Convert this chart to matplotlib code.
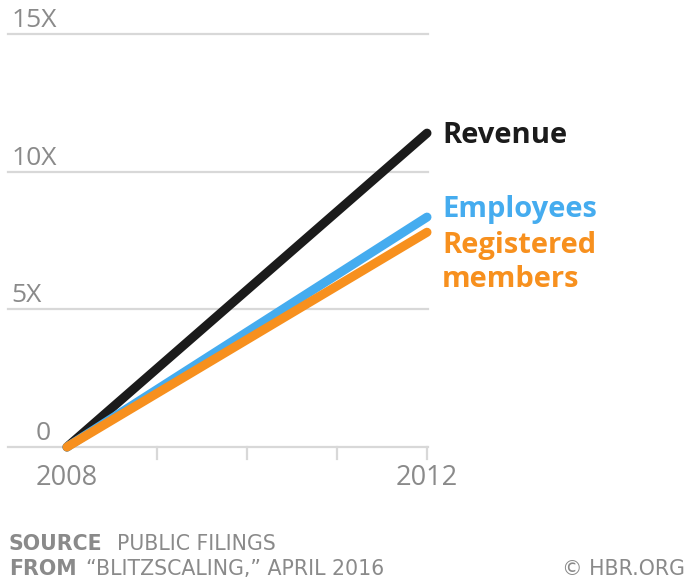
import matplotlib
matplotlib.use("Agg")
import matplotlib.pyplot as plt
from matplotlib.transforms import blended_transform_factory

years = [2008, 2012]
revenue = [0, 11.4]
employees = [0, 8.35]
members = [0, 7.8]
ytick_vals = [0, 5, 10, 15]
ytick_labels = ["0", "5X", "10X", "15X"]
xtick_vals = [2008, 2009, 2010, 2011, 2012]
xtick_labels = ["2008", "", "", "", "2012"]

BLACK = "#1b1b1b"
BLUE = "#45acef"
ORANGE = "#f7901e"
GRAY = "#8a8a8a"
GRID = "#d8d8d8"

plt.rcParams['font.family'] = ['Open Sans', 'DejaVu Sans']

W, H = 687, 581
fig = plt.figure(figsize=(W / 100, H / 100), dpi=100)
ax = fig.add_axes([8 / W, (H - 447) / H, 420 / W, 413 / H])
ax.set_xlim(2008 - 59 / 90, 2012 + 1 / 90)
ax.set_ylim(0, 15)
for s in ax.spines.values():
    s.set_visible(False)
ax.set_xticks([])
ax.set_yticks([])

# gridlines
for v in ytick_vals:
    ax.axhline(v, color=GRID, lw=1.6, zorder=1, clip_on=False)
trans = blended_transform_factory(ax.transAxes, ax.transData)
for v, lab in zip(ytick_vals, ytick_labels):
    ax.text(0.008 if v else 0.065, v + 0.25, lab, transform=trans, ha="left", va="baseline",
            fontsize=19, color=GRAY)

# bottom ticks
for x, lab in zip(xtick_vals, xtick_labels):
    if x != 2008:
        ax.plot([x, x], [0, -0.42], color=GRID, lw=1.6, clip_on=False, zorder=1)
    if lab:
        ax.text(x, -1.38, lab, ha="center", va="baseline", fontsize=19.5, color=GRAY)

lw = 6.5
ax.plot(years, revenue, color=BLACK, lw=lw, solid_capstyle="round", clip_on=False, zorder=3)
ax.plot(years, employees, color=BLUE, lw=lw, solid_capstyle="round", clip_on=False, zorder=4)
ax.plot(years, members, color=ORANGE, lw=lw, solid_capstyle="round", clip_on=False, zorder=5)

lx = 2012 + 15 / 90
lfs = 21
ax.text(lx, 11.05, "Revenue", color=BLACK, fontsize=lfs, fontweight="bold",
        ha="left", va="baseline", clip_on=False)
ax.text(lx, 8.36, "Employees", color=BLUE, fontsize=lfs, fontweight="bold",
        ha="left", va="baseline", clip_on=False)
ax.text(lx, 7.05, "Registered", color=ORANGE, fontsize=lfs, fontweight="bold",
        ha="left", va="baseline", clip_on=False)
ax.text(lx, 5.82, "members", color=ORANGE, fontsize=lfs, fontweight="bold",
        ha="left", va="baseline", clip_on=False)

# footer
fy1 = 1 - 550 / H
fy2 = 1 - 575 / H
fs = 14.8
ff = ['DejaVu Sans']
fig.text(9 / W, fy1, "SOURCE", fontsize=fs, color=GRAY, fontweight="bold", va="baseline", family=ff)
fig.text(117 / W, fy1, "PUBLIC FILINGS", fontsize=fs, color=GRAY, va="baseline", family=ff)
fig.text(9 / W, fy2, "FROM", fontsize=fs, color=GRAY, fontweight="bold", va="baseline", family=ff)
fig.text(86 / W, fy2, "\u201cBLITZSCALING,\u201d APRIL 2016", fontsize=fs, color=GRAY, va="baseline", family=ff)
fig.text(685 / W, fy2, "\u00a9 HBR.ORG", fontsize=fs, color=GRAY, va="baseline", ha="right", family=ff)

fig.savefig("out.png", dpi=100)
